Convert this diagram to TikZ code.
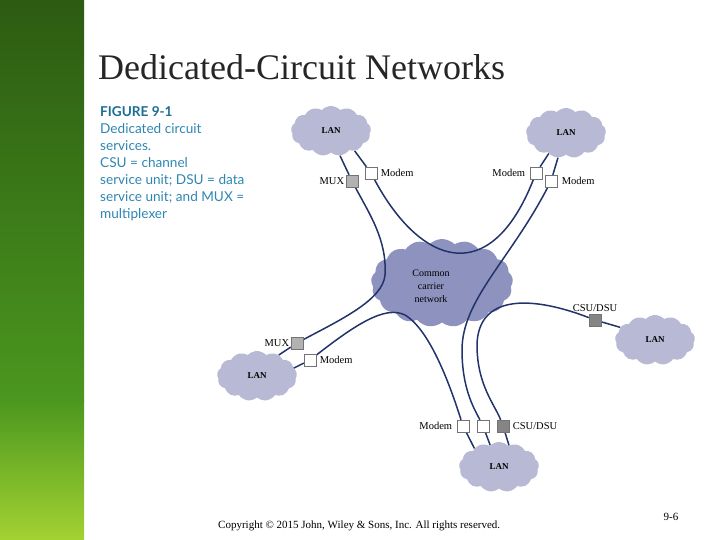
\documentclass[tikz,border=0pt]{standalone}
\usepackage{fontspec}
\setmainfont{Liberation Serif}
\newfontfamily\capfont{Lato}
\usetikzlibrary{positioning,shapes.symbols}
\definecolor{lanfill}{HTML}{B7B9D5}
\definecolor{corefill}{HTML}{8E92BE}
\definecolor{wire}{HTML}{22336B}
\definecolor{capblue}{HTML}{2E86B2}
\definecolor{figblue}{HTML}{1C6E95}
\definecolor{bartop}{HTML}{2C5B12}
\definecolor{barmid}{HTML}{4B971F}
\definecolor{barbot}{HTML}{A3D232}
\pgfdeclarelayer{back}
\pgfdeclarelayer{wires}
\pgfsetlayers{back,wires,main}

\begin{document}
\begin{tikzpicture}[x=1pt, y=-1pt, every node/.style={font=\fontsize{10.5}{12}\selectfont},
	lan/.style={cloud, cloud puffs=13, cloud puff arc=95, aspect=1.6, fill=lanfill, inner sep=0pt, minimum width=80pt, minimum height=50pt, font=\fontsize{9}{10}\selectfont\bfseries},
	unit/.style={draw=black!55, fill=white, minimum size=12pt, inner sep=0pt},
	mux/.style={unit, fill=black!30},
	csu/.style={unit, fill=black!48},
	link/.style={wire, line width=1.5pt},
	tag/.style={inner sep=1.5pt}]
	\useasboundingbox (0,0) rectangle (720,540);
	\shade[top color=bartop, bottom color=barmid] (0,0) rectangle (84,400);
	\shade[top color=barmid, bottom color=barbot] (0,400) rectangle (84,540);
	\node[anchor=base west, inner sep=0pt, font=\fontsize{36}{40}\selectfont, text=black!85] (title) at (98,80) {Dedicated-Circuit Networks};
	\node[anchor=north west, align=left, inner sep=0pt, font=\capfont\fontsize{13.6}{17}\selectfont, text=capblue] (caption) at (100,106) {{\bfseries\color{figblue}FIGURE 9-1}\\Dedicated circuit\\services.\\CSU = channel\\service unit; DSU = data\\service unit; and MUX =\\multiplexer};
	% clouds
	\begin{pgfonlayer}{back}
		\node[lan, fill=corefill, cloud puffs=17, cloud puff arc=90, minimum width=142pt, minimum height=88pt] (core) at (442,283) {};
	\end{pgfonlayer}
	\node[align=center, font=\fontsize{10}{13}\selectfont] (corelabel) at (431,286) {Common\\carrier\\network};
	\node[lan] (lanTL) at (331,131) {LAN};
	\node[lan] (lanTR) at (566,133) {LAN};
	\node[lan] (lanR) at (655,340) {LAN};
	\node[lan] (lanL) at (257,376) {LAN};
	\node[lan] (lanB) at (499,467) {LAN};
	% devices
	\node[mux] (muxTL) at (352,181) {};
	\node[unit] (modemTL) at (371,173) {};
	\node[unit] (modemTR) at (536,173) {};
	\node[unit] (modemTR2) at (551,181) {};
	\node[csu] (csuR) at (595,320) {};
	\node[mux] (muxL) at (297,343) {};
	\node[unit] (modemL) at (310,360) {};
	\node[unit] (modemB) at (463,426) {};
	\node[unit] (lineB) at (483,426) {};
	\node[csu] (csuB) at (503,426) {};
	\node[tag, left=0pt of muxTL] (muxTLtag) {MUX};
	\node[tag, right=2pt of modemTL] (modemTLtag) {Modem};
	\node[tag, left=3pt of modemTR] (modemTRtag) {Modem};
	\node[tag, right=3pt of modemTR2] (modemTR2tag) {Modem};
	\node[tag, above=0pt of csuR] (csuRtag) {CSU/DSU};
	\node[tag, left=0pt of muxL] (muxLtag) {MUX};
	\node[tag, right=2pt of modemL] (modemLtag) {Modem};
	\node[tag, left=3pt of modemB] (modemBtag) {Modem};
	\node[tag, right=2pt of csuB] (csuBtag) {CSU/DSU};
	% circuits
	\begin{pgfonlayer}{wires}
		\draw[link] (muxTL) -- (lanTL.-70);
		\draw[link] (modemTL) -- (lanTL.-40);
		\draw[link] (modemTR) -- (lanTR.-130);
		\draw[link] (modemTR2) -- (lanTR.-108);
		\draw[link] (csuR) -- (lanR.160);
		\draw[link] (muxL) -- (lanL.44);
		\draw[link] (modemL) -- (lanL.12);
		\draw[link] (modemB) -- (lanB.143);
		\draw[link] (lineB) -- (lanB.112);
		\draw[link] (csuB) -- (lanB.65);
		\draw[link] (muxTL) .. controls (370,215) and (387,240) .. (385,275) .. controls (383,300) and (340,320) .. (muxL);
		\draw[link] (modemTL) .. controls (420,265) and (490,290) .. (modemTR);
		\draw[link] (modemTR2) .. controls (510,260) and (462,300) .. (462,350) .. controls (462,390) and (475,410) .. (lineB);
		\draw[link] (csuR) .. controls (530,295) and (478,295) .. (477,345) .. controls (477,385) and (495,405) .. (csuB);
		\draw[link] (modemL) .. controls (355,325) and (385,305) .. (405,315) .. controls (430,330) and (450,385) .. (modemB);
	\end{pgfonlayer}
	% footer
	\node[anchor=base west, inner sep=0pt, font=\fontsize{11}{12}\selectfont] (copyright) at (218,528) {Copyright © 2015 John, Wiley \& Sons, Inc. All rights reserved.};
	\node[anchor=base, inner sep=0pt, font=\fontsize{11}{12}\selectfont] (pagenum) at (671,520) {9-6};
\end{tikzpicture}
\end{document}
